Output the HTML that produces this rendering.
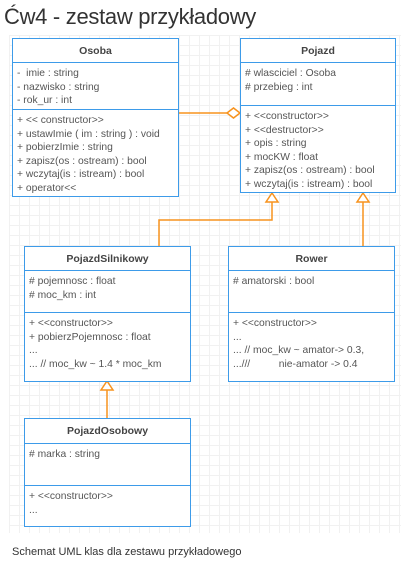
<!DOCTYPE html>
<html><head><meta charset="utf-8"><style>
body{margin:0;width:407px;height:567px;background:#fff;font-family:"Liberation Sans",sans-serif;position:relative;overflow:hidden}
.t{position:absolute;left:4px;top:4px;font-size:22px;color:#333;letter-spacing:-0.3px}
.grid{position:absolute;left:9px;top:35px;width:392px;height:498px;
background-image:linear-gradient(#f1f1f1 1px,transparent 1px),linear-gradient(90deg,#f1f1f1 1px,transparent 1px);background-size:10px 10px}
.b{position:absolute;border:1.5px solid #3d9be9;background:#fff;box-sizing:border-box;font-size:10.3px;color:#555}
.h{text-align:center;font-weight:bold;font-size:10.5px;color:#444;border-bottom:1.5px solid #3d9be9;box-sizing:border-box;padding-top:6px}
.s{border-bottom:1.5px solid #3d9be9;box-sizing:border-box;padding:4px 0 0 4px;line-height:13.5px;white-space:pre}
.s:last-child{border-bottom:none}
.c{position:absolute;left:12px;top:546px;font-size:11px;color:#333}
svg{position:absolute;left:0;top:0}
</style></head><body>
<div class="t">Ćw4 - zestaw przykładowy</div>
<div class="grid"></div>
<svg width="407" height="567">
<g stroke="#f7931e" stroke-width="1.5" fill="#fff">
<line x1="178" y1="113" x2="227" y2="113"/>
<polygon points="227,113 233.5,108 240,113 233.5,118"/>
<polyline fill="none" points="159,246 159,220 272,220 272,202"/>
<polygon points="266,202 278,202 272,193"/>
<line x1="363" y1="246" x2="363" y2="202"/>
<polygon points="357,202 369,202 363,193"/>
<line x1="107" y1="418" x2="107" y2="390"/>
<polygon points="101,390 113,390 107,381"/>
</g></svg>
<div class="b" style="left:12px;top:38px;width:167px;height:159px">
<div class="h" style="height:24px">Osoba</div>
<div class="s" style="height:47px">-  imie : string
- nazwisko : string
- rok_ur : int</div>
<div class="s">+ &lt;&lt; constructor&gt;&gt;
+ ustawImie ( im : string ) : void
+ pobierzImie : string
+ zapisz(os : ostream) : bool
+ wczytaj(is : istream) : bool
+ operator&lt;&lt;</div>
</div>
<div class="b" style="left:240px;top:38px;width:156px;height:155px">
<div class="h" style="height:24px">Pojazd</div>
<div class="s" style="height:43px"># wlasciciel : Osoba
# przebieg : int</div>
<div class="s">+ &lt;&lt;constructor&gt;&gt;
+ &lt;&lt;destructor&gt;&gt;
+ opis : string
+ mocKW : float
+ zapisz(os : ostream) : bool
+ wczytaj(is : istream) : bool</div>
</div>
<div class="b" style="left:24px;top:246px;width:167px;height:136px">
<div class="h" style="height:24px">PojazdSilnikowy</div>
<div class="s" style="height:42px"># pojemnosc : float
# moc_km : int</div>
<div class="s">+ &lt;&lt;constructor&gt;&gt;
+ pobierzPojemnosc : float
...
... // moc_kw ~ 1.4 * moc_km</div>
</div>
<div class="b" style="left:228px;top:246px;width:167px;height:136px">
<div class="h" style="height:24px">Rower</div>
<div class="s" style="height:42px"># amatorski : bool</div>
<div class="s">+ &lt;&lt;constructor&gt;&gt;
...
... // moc_kw ~ amator-&gt; 0.3,
...///          nie-amator -&gt; 0.4</div>
</div>
<div class="b" style="left:24px;top:418px;width:167px;height:109px">
<div class="h" style="height:25px">PojazdOsobowy</div>
<div class="s" style="height:42px"># marka : string</div>
<div class="s">+ &lt;&lt;constructor&gt;&gt;
...</div>
</div>
<div class="c">Schemat UML klas dla zestawu przykładowego</div>
</body></html>
